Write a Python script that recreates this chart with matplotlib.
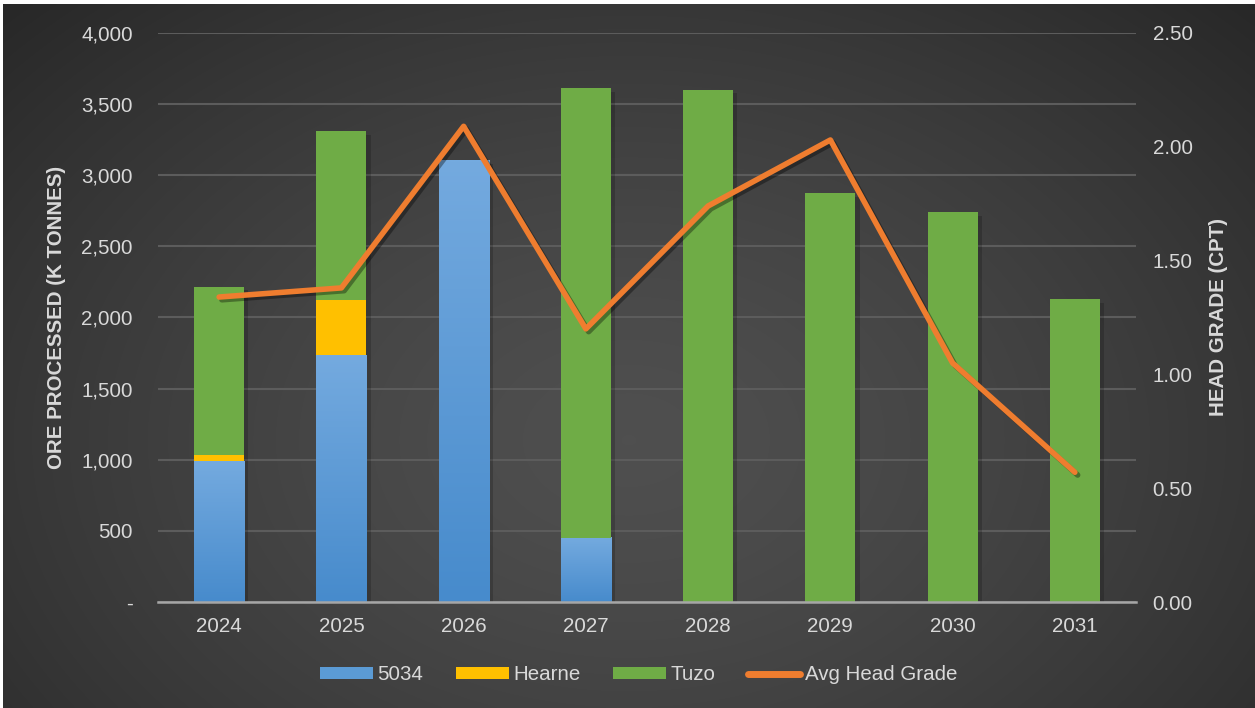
import numpy as np
import matplotlib
matplotlib.use("Agg")
from matplotlib import pyplot as plt
from matplotlib.patches import Patch
from matplotlib.lines import Line2D
from matplotlib.ticker import FuncFormatter
import matplotlib.patheffects as pe

years = ["2024", "2025", "2026", "2027", "2028", "2029", "2030", "2031"]
ore_5034 = [990, 1735, 3105, 450, 0, 0, 0, 0]
ore_hearne = [45, 390, 0, 0, 0, 0, 0, 0]
ore_tuzo = [1180, 1185, 0, 3160, 3600, 2875, 2740, 2130]
head_grade = [1.34, 1.38, 2.09, 1.20, 1.74, 2.03, 1.05, 0.57]

BLUE_TOP = np.array([0x74, 0xaa, 0xdf]) / 255
BLUE_BOT = np.array([0x47, 0x8b, 0xcc]) / 255
YELLOW = "#ffc000"
GREEN = "#6fac46"
ORANGE = "#ef7d2f"
TXT = "#d9d9d9"
FS = 14.8

plt.rcParams['font.family'] = ['Liberation Sans', 'DejaVu Sans']

fig = plt.figure(figsize=(12.55, 7.08), dpi=100)
fig.patch.set_facecolor("white")

# radial gradient background
bg = fig.add_axes([3/1255, 0, 1 - 3/1255, 1 - 4/708], zorder=-10)
yy, xx = np.mgrid[0:1:300j, 0:1:500j]
r = np.sqrt(((xx - 0.5) / 0.75)**2 + ((yy - 0.62) / 0.95)**2)
val = 0.31 - 0.17 * np.clip(r, 0, 1)**1.4
bg.imshow(np.dstack([val, val, val]), aspect="auto", extent=(0, 1, 0, 1),
          interpolation="bilinear")
bg.set_axis_off()

ax = fig.add_axes([158/1255, 1 - 602/708, (1136 - 158)/1255, (602 - 33)/708])
ax.patch.set_alpha(0)
x = np.arange(len(years))
w = 0.41

b5034 = np.array(ore_5034)
bhearne = np.array(ore_hearne)
btuzo = np.array(ore_tuzo)
tot = b5034 + bhearne + btuzo

# soft shadows
ax.bar(x + 0.035, tot, w, bottom=-25, color="black", alpha=0.18, zorder=1, linewidth=0)

grad = np.linspace(0, 1, 100)[:, None]
for xi, h in zip(x, b5034):
    if h <= 0:
        continue
    img = BLUE_BOT[None, None, :] * (1 - grad[..., None]) + BLUE_TOP[None, None, :] * grad[..., None]
    ax.imshow(img, extent=(xi - w/2, xi + w/2, 0, h), origin="lower",
              aspect="auto", zorder=2, interpolation="bilinear")
ax.bar(x, bhearne, w, bottom=b5034, color=YELLOW, zorder=2, linewidth=0)
ax.bar(x, btuzo, w, bottom=b5034 + bhearne, color=GREEN, zorder=2, linewidth=0)

ax.set_xlim(-0.5, len(years) - 0.5)
ax.set_ylim(0, 4000)
ax.set_yticks(np.arange(0, 4001, 500))
ax.yaxis.set_major_formatter(FuncFormatter(lambda v, p: "-" if v == 0 else f"{v:,.0f}"))
ax.set_xticks(x)
ax.set_xticklabels(years)
ax.grid(axis="y", color="#5c5c5c", linewidth=1.5, zorder=0)
ax.set_axisbelow(True)
for s in ["top", "left", "right"]:
    ax.spines[s].set_visible(False)
ax.spines["bottom"].set_color("#a6a6a6")
ax.spines["bottom"].set_linewidth(1.8)
ax.spines["bottom"].set_zorder(3)
ax.tick_params(axis="x", length=0, pad=11, labelsize=FS, labelcolor=TXT)
ax.tick_params(axis="y", length=0, pad=18, labelsize=FS, labelcolor=TXT)
ax.set_ylabel("ORE PROCESSED (K TONNES)", fontsize=FS, fontweight="bold",
              color=TXT, labelpad=11)

ax2 = ax.twinx()
ax2.set_ylim(0, 2.5)
ax2.set_yticks(np.arange(0, 2.51, 0.5))
ax2.yaxis.set_major_formatter(FuncFormatter(lambda v, p: f"{v:.2f}"))
for s in ["top", "left", "right", "bottom"]:
    ax2.spines[s].set_visible(False)
ax2.tick_params(axis="y", length=0, pad=12, labelsize=FS, labelcolor=TXT)
ax2.set_ylabel("HEAD GRADE (CPT)", fontsize=FS, fontweight="bold",
               color=TXT, labelpad=12)
ax2.plot(x, head_grade, color=ORANGE, linewidth=4, solid_capstyle="round",
         solid_joinstyle="round", zorder=5,
         path_effects=[pe.SimpleLineShadow(offset=(2, -2), alpha=0.35, shadow_color="black"),
                       pe.Normal()])

handles = [Patch(facecolor="#5b9bd5", edgecolor="none"),
           Patch(facecolor=YELLOW, edgecolor="none"),
           Patch(facecolor=GREEN, edgecolor="none"),
           Line2D([0], [0], color=ORANGE, linewidth=5, solid_capstyle="round")]
leg = fig.legend(handles, ["5034", "Hearne", "Tuzo", "Avg Head Grade"],
                 loc="center", bbox_to_anchor=(0.509, 1 - 675/708), ncol=4,
                 frameon=False, fontsize=FS, labelcolor=TXT,
                 handlelength=2.55, handleheight=0.53, handletextpad=0.22,
                 columnspacing=1.6)

fig.savefig("out.png", dpi=100, facecolor=fig.get_facecolor())
